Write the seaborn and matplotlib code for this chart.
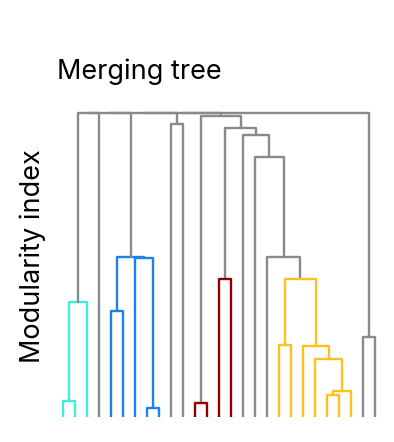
import pandas as pd
import matplotlib
matplotlib.use("Agg")
import matplotlib.pyplot as plt
import seaborn as sns

# leaves 0..26, merged nodes numbered from 27 on (linkage style)
n_leaves = 27
merge_left = [0, 27, 4, 7, 6, 29, 9, 11, 13, 18, 22, 37, 21, 20, 36,
              17, 16, 15, 35, 34, 25, 28, 48, 49, 50, 51]
merge_right = [1, 2, 5, 8, 30, 31, 10, 12, 14, 19, 23, 24, 38, 39, 40,
               41, 42, 43, 44, 45, 26, 3, 32, 33, 46, 47]
merge_height = [0.054, 0.380, 0.349, 0.029, 0.523, 0.528, 0.965, 0.045, 0.454, 0.237, 0.072,
                0.087, 0.190, 0.235, 0.453, 0.528, 0.857, 0.929, 0.951, 0.991, 0.262,
                1.0, 1.0, 1.0, 1.0, 1.0]
merge_cluster = ["cyan", "cyan", "blue", "blue", "blue", "blue", "gray", "red", "red",
                 "yellow", "yellow", "yellow", "yellow", "yellow", "yellow",
                 "gray", "gray", "gray", "gray", "gray", "gray",
                 "gray", "gray", "gray", "gray", "gray"]

palette = {"cyan": "#3CEFDA", "blue": "#1B82EE", "red": "#8E0000",
           "yellow": "#FBC11E", "gray": "#8A8A8A"}

# %%
# turn the merges into U-shaped links
pos = {i: float(i) for i in range(n_leaves)}
hgt = {i: 0.0 for i in range(n_leaves)}
rows = []
for k, (a, b, h, c) in enumerate(zip(merge_left, merge_right, merge_height, merge_cluster)):
    node = n_leaves + k
    xs = [pos[a], pos[a], pos[b], pos[b]]
    ys = [hgt[a], h, h, hgt[b]]
    for j in range(4):
        rows.append({"link": k, "order": j, "x": xs[j], "y": ys[j], "cluster": c})
    pos[node] = (pos[a] + pos[b]) / 2
    hgt[node] = h
df = pd.DataFrame(rows)

sns.set_theme(style="white")
plt.rcParams["font.family"] = ["Inter", "DejaVu Sans"]

fig = plt.figure(figsize=(3.94, 4.42), dpi=100)
ax = fig.add_axes([0.1447, 0.0566, 0.8223, 0.7215])
sns.lineplot(data=df, x="x", y="y", units="link", hue="cluster", palette=palette,
             estimator=None, sort=False, legend=False, linewidth=1.7, ax=ax)
ax.set_xlim(-0.5, 26.5)
ax.set_ylim(0, 1.05)
ax.set_xticks([])
ax.set_yticks([])
ax.set_xlabel("")
sns.despine(ax=ax, left=True, bottom=True)
ax.set_title("Merging tree", loc="left", fontsize=19.5, pad=14, color="black")
ax.set_ylabel("Modularity index", fontsize=19.5, color="black")
ax.yaxis.set_label_coords(-0.034, 0.505)

plt.savefig("out.png", dpi=100)
